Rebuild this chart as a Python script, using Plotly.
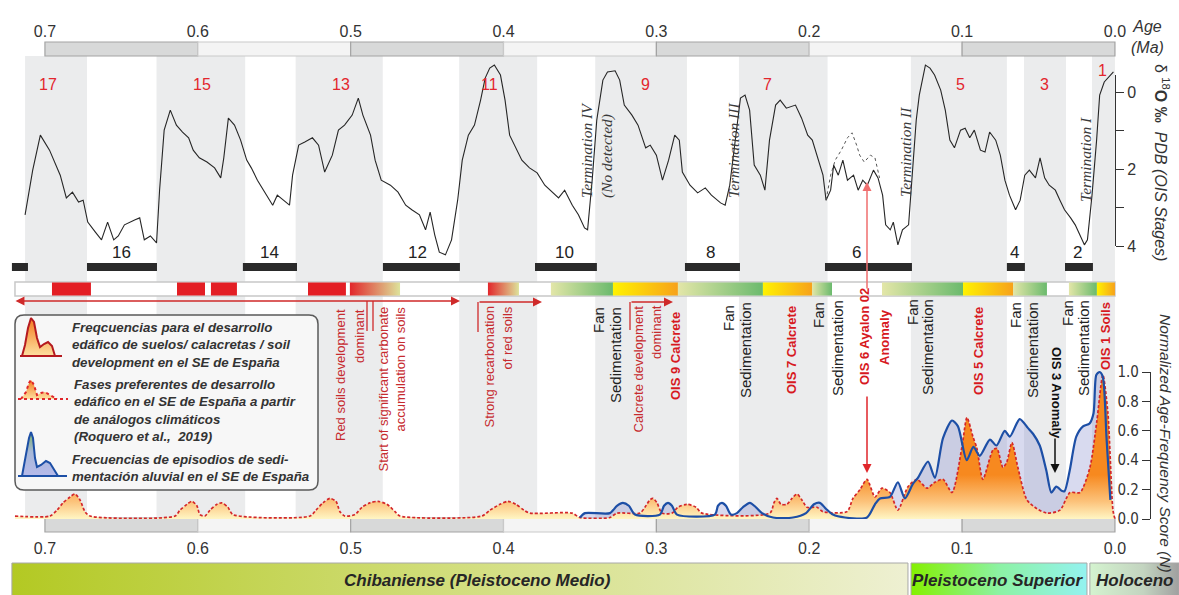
import plotly.graph_objects as go

W, H = 1179, 595

# ---------------- chronology ----------------
age_ticks_ma = [0.7, 0.6, 0.5, 0.4, 0.3, 0.2, 0.1, 0.0]
age_tick_text = ["0.7", "0.6", "0.5", "0.4", "0.3", "0.2", "0.1", "0.0"]

# ---------------- benthic δ18O stack (ka, ‰ PDB) ----------------
d18o_age_ka = [713, 708, 703, 697, 690, 686, 682, 678, 675, 672, 667, 663, 659, 655, 652, 648, 641, 638,
               635, 631, 627, 625, 622, 618, 614, 610, 606, 603, 599, 594, 589, 585, 583, 580, 576, 572,
               568, 565, 561, 556, 551, 548, 544, 540, 538, 534, 530, 525, 521, 517, 512, 508, 504, 499,
               495, 492, 487, 484, 480, 474, 469, 464, 460, 455, 451, 448, 445, 442, 438, 434, 430, 427,
               423, 419, 415, 412, 409, 406, 402, 399, 396, 393, 388, 383, 378, 373, 368, 364, 360, 355,
               351, 347, 345, 342, 339, 335, 332, 327, 324, 321, 316, 312, 307, 304, 300, 296, 292, 288,
               285, 283, 278, 273, 268, 264, 258, 255, 252, 249, 245, 242, 239, 236, 232, 229, 226, 222,
               219, 215, 209, 205, 201, 198, 194, 191, 189, 186, 184, 181, 178, 175, 171, 168, 165, 162,
               158, 155, 152, 150, 147, 145, 142, 139, 135, 133, 130, 128, 124, 121, 118, 114, 111, 108,
               105, 101, 98, 95, 92, 88, 85, 82, 78, 75, 72, 69, 65, 62, 59, 56, 52, 49, 46, 43, 39, 36,
               33, 29, 26, 23, 20, 18, 15, 12, 10, 7, 3, 1]
d18o_permil = [3.19, 2.03, 1.12, 1.51, 2.16, 2.75, 2.60, 2.86, 2.81, 3.38, 3.64, 3.84, 3.38, 3.84, 3.74, 3.45,
               3.32, 3.27, 3.84, 3.74, 3.92, 2.55, 0.99, 0.47, 0.86, 1.04, 1.19, 1.51, 1.71, 1.82, 1.97, 2.23,
               1.71, 0.68, 0.86, 1.25, 1.77, 1.97, 2.29, 2.62, 2.94, 2.68, 2.81, 2.94, 2.16, 1.38, 1.30, 1.19,
               1.38, 2.08, 1.64, 0.99, 0.86, 0.60, 0.16, 0.60, 1.12, 1.77, 2.29, 2.42, 2.60, 2.94, 3.06, 3.19,
               3.58, 3.12, 3.71, 4.16, 4.23, 3.84, 2.81, 1.77, 1.12, 0.86, 0.21, -0.36, -0.62, -0.70, -0.44,
               0.21, 1.12, 1.38, 1.77, 1.97, 2.10, 2.42, 2.60, 2.75, 2.55, 2.94, 3.19, 3.53, 3.58, 2.29, 0.73,
               -0.31, -0.52, -0.55, -0.31, 0.34, 0.60, 0.86, 1.45, 1.38, 1.64, 2.29, 1.77, 1.12, 1.25, 2.08,
               2.42, 2.62, 2.49, 2.68, 2.88, 2.94, 2.42, 1.51, 0.16, 0.08, 0.47, 1.90, 2.16, 2.55, 1.25, 0.34,
               0.21, 0.42, 0.34, 0.68, 1.12, 1.25, 1.77, 2.16, 2.81, 2.55, 1.90, 2.16, 1.77, 2.29, 2.16, 2.55,
               2.29, 2.42, 2.03, 2.23, 2.68, 3.45, 3.58, 3.38, 3.97, 3.58, 3.45, 2.29, 0.73, 0.08, -0.70, -0.62,
               -0.44, -0.05, 0.47, 1.25, 1.45, 0.99, 0.94, 1.19, 0.99, 1.51, 1.56, 1.04, 1.25, 1.64, 2.29, 2.68,
               3.06, 2.81, 2.16, 2.03, 2.23, 1.71, 2.23, 2.42, 2.55, 2.81, 3.06, 3.27, 3.45, 3.71, 3.97, 3.84,
               2.68, 1.25, 0.08, -0.26, -0.44, -0.52]

# dotted alternative record across MIS 6 (Ayalon 02 anomaly)
ayalon_age_ka = [189, 186, 183, 179, 175, 172, 169, 167, 164, 160, 157, 154]
ayalon_permil = [2.81, 2.16, 1.77, 1.51, 1.19, 1.06, 1.38, 1.64, 1.82, 1.64, 1.71, 2.23]

# ---------------- normalized age-frequency scores (N) ----------------
soil_age_ka = [719.6, 696.7, 692.1, 688.2, 683.6, 680.4, 677.1, 673.8, 670.5, 614.9, 611.7, 607.1, 603.8,
               600.6, 598.6, 595.3, 592.0, 587.5, 584.2, 580.3, 577.0, 526.6, 522.7, 518.1, 513.5, 509.6,
               507.0, 503.7, 497.2, 492.6, 487.4, 482.1, 476.2, 471.0, 467.7, 414.1, 408.9, 402.3, 397.1,
               391.9, 386.6, 382.7, 355.2, 350.0, 330.4, 325.8, 310.7, 307.5, 304.2, 302.2, 299.6, 296.3,
               289.8, 285.9, 280.0, 274.1, 270.2, 225.7, 223.1, 221.1, 218.5, 214.6, 211.3, 208.0, 204.8,
               201.5, 195.0, 191.0, 175.3, 171.4, 166.8, 162.2, 157.0, 152.4, 147.2, 142.0, 135.4, 129.5,
               123.0, 117.8, 112.5, 106.6, 100.1, 96.8, 92.9, 90.3, 86.4, 79.8, 77.2, 73.3, 70.7, 67.4,
               63.5, 57.6, 51.0, 44.5, 36.0, 29.4, 22.9, 16.4, 11.8, 7.9, 4.6, 1.3, 0.0]
soil_score = [0.02, 0.02, 0.06, 0.11, 0.15, 0.17, 0.13, 0.05, 0.02, 0.02, 0.06, 0.10, 0.12, 0.09, 0.03,
              0.02, 0.06, 0.10, 0.11, 0.08, 0.03, 0.02, 0.06, 0.11, 0.14, 0.12, 0.05, 0.02, 0.03, 0.08,
              0.11, 0.12, 0.10, 0.05, 0.02, 0.02, 0.06, 0.10, 0.12, 0.10, 0.06, 0.04, 0.04, 0.01, 0.01,
              0.04, 0.04, 0.08, 0.13, 0.14, 0.11, 0.04, 0.04, 0.08, 0.10, 0.08, 0.04, 0.04, 0.11, 0.14,
              0.10, 0.10, 0.14, 0.17, 0.13, 0.08, 0.08, 0.05, 0.05, 0.14, 0.20, 0.27, 0.15, 0.21, 0.18,
              0.06, 0.22, 0.27, 0.21, 0.25, 0.27, 0.18, 0.49, 0.69, 0.56, 0.48, 0.27, 0.47, 0.48, 0.35,
              0.39, 0.52, 0.35, 0.13, 0.07, 0.04, 0.06, 0.18, 0.18, 0.35, 0.67, 0.98, 0.72, 0.06, 0.0]

sed_age_ka = [350.0, 346.7, 330.4, 325.8, 321.9, 318.0, 314.0, 297.7, 295.0, 292.4, 289.8, 286.5, 261.7,
              259.7, 257.1, 254.5, 251.2, 247.3, 243.4, 238.8, 234.9, 230.9, 223.7, 210.6, 202.1, 196.9,
              193.0, 189.1, 184.5, 176.6, 162.2, 157.0, 153.7, 147.2, 142.0, 137.4, 132.1, 128.9, 122.3,
              117.8, 112.5, 106.6, 102.7, 97.0, 92.6, 88.4, 81.8, 77.5, 72.1, 68.8, 62.3, 57.0, 53.6,
              49.2, 44.9, 41.6, 38.4, 34.5, 32.9, 29.6, 25.3, 20.9, 16.6, 14.0, 12.2, 10.0, 8.0, 5.5, 3.0]
sed_score = [0.01, 0.04, 0.04, 0.09, 0.11, 0.09, 0.03, 0.03, 0.09, 0.11, 0.09, 0.03, 0.03, 0.09, 0.11,
             0.09, 0.03, 0.04, 0.08, 0.11, 0.08, 0.04, 0.01, 0.01, 0.04, 0.10, 0.11, 0.07, 0.03, 0.01,
             0.01, 0.10, 0.14, 0.15, 0.25, 0.14, 0.24, 0.28, 0.39, 0.28, 0.55, 0.67, 0.63, 0.40, 0.49,
             0.43, 0.54, 0.50, 0.60, 0.56, 0.68, 0.62, 0.58, 0.50, 0.33, 0.18, 0.22, 0.19, 0.19, 0.33,
             0.56, 0.63, 0.65, 0.72, 0.98, 1.00, 0.97, 0.55, 0.13]

# ---------------- marine isotope stages ----------------
interglacial_old_ka = [713, 627, 536, 429, 340, 246, 133.5, 59.5, 15]
interglacial_young_ka = [672.5, 569, 479, 378, 280, 188, 70.7, 32, 0]
interglacial_label = ["17", "15", "13", "11", "9", "7", "5", "3", "1"]
interglacial_label_ka = [698, 597, 506, 409, 307, 227, 101, 46, 8]

glacial_old_ka = [721.6, 672.5, 570.5, 478.9, 379.4, 281.3, 189.7, 70.7, 32.7]
glacial_young_ka = [711.1, 626.7, 535.1, 428.5, 338.9, 245.3, 132.8, 58.9, 14.4]
glacial_label = ["", "16", "14", "12", "10", "8", "6", "4", "2"]
glacial_label_ka = [716, 649.6, 552.8, 456.0, 359.8, 264.3, 168.8, 65.4, 24.2]

terminations = ["Termination IV<br>(No detected)", "Termination III", "Termination II", "Termination I"]

# ---------------- soil / fan sedimentation phases ----------------
phase_bar_ka = [719.6, 0.0]
seg_old_ka = [695.4, 613.6, 591.4, 527.9, 500.5, 410.2, 369.0, 328.4, 285.9, 230.3, 198.2,
              152.4, 99.4, 66.7, 30.1, 11.8]
seg_young_ka = [669.9, 595.3, 574.4, 503.1, 467.7, 389.9, 328.4, 285.9, 230.3, 198.2, 185.1,
                99.4, 66.7, 44.5, 11.8, 0.0]
seg_kind = ["soil", "soil", "soil", "soil", "recarb", "recarb", "fan", "calcrete", "fan", "calcrete",
            "fan", "fan", "calcrete", "fan", "fan", "calcrete"]

# ---------------- chronostratigraphy ----------------
chrono_name = ["Chibaniense (Pleistoceno Medio)", "Pleistoceno Superior", "Holoceno"]
chrono_old_ma = [0.7216, 0.1334, 0.0164]
chrono_young_ma = [0.1354, 0.0183, -0.0419]
chrono_label_ma = [0.4170, 0.0768, -0.0127]

# ================= styling / layout =================
SANS = "Liberation Sans, Arial, sans-serif"
COND = "DejaVu Sans Condensed, Liberation Sans, sans-serif"
SERIF = "Liberation Serif, Times New Roman, serif"
RED = "#e3262d"
DARKRED = "#c62a2e"

X_OLD, X_YOUNG = 0.7294, -0.0419          # visible age range (Ma)


def ma(ka):
    return [k / 1000.0 for k in ka]


def mx(p):
    """age (Ma) at horizontal pixel p"""
    return X_OLD + (X_YOUNG - X_OLD) * p / W


def px(p):
    return p / W


def py(p):
    return 1 - p / H


# δ18O scale: 0 ‰ at 92 px, 38.5 px per ‰ ; N scale: 0 at 519 px, 147 px per unit
def d18o_at(p):
    return (p - 92) / 38.5


def n_at(p):
    return (519 - p) / 147


def note(text, x, y, xref="paper", **kw):
    d = dict(xref=xref, yref="paper", x=x, y=y, text=text, showarrow=False,
             xanchor="center", yanchor="middle")
    d.update(kw)
    return d


fig = go.Figure()
shapes = []
annotations = []

# interglacial bands
for o, y_ in zip(interglacial_old_ka, interglacial_young_ka):
    shapes.append(dict(type="rect", xref="x", yref="y", x0=o / 1000, x1=y_ / 1000, y0=56, y1=517,
                       fillcolor="#ebeced", line_width=0, layer="below"))

# age strips top and bottom
for i in range(len(age_ticks_ma) - 1):
    dark = i % 2 == 0
    for (t, b) in [(42, 56), (518, 532)]:
        shapes.append(dict(type="rect", xref="x", yref="y", x0=age_ticks_ma[i], x1=age_ticks_ma[i + 1],
                           y0=t, y1=b, fillcolor="#d8d9d9" if dark else "#f4f4f4",
                           line=dict(color="#a3a3a3" if dark else "#c9c9c9", width=1.2), layer="below"))

# legend frame (rounded)
L, R, T, B, r = 15, 318, 315, 490, 9
pts = (f"M {mx(L + r)} {T} L {mx(R - r)} {T} Q {mx(R)} {T} {mx(R)} {T + r} L {mx(R)} {B - r} "
       f"Q {mx(R)} {B} {mx(R - r)} {B} L {mx(L + r)} {B} Q {mx(L)} {B} {mx(L)} {B - r} "
       f"L {mx(L)} {T + r} Q {mx(L)} {T} {mx(L + r)} {T} Z")
shapes.append(dict(type="path", xref="x", yref="y", path=pts, fillcolor="#f7f7f7",
                   line=dict(color="#5a5a5a", width=1.5), layer="below"))

# glacial bars
for o, y_ in zip(glacial_old_ka, glacial_young_ka):
    shapes.append(dict(type="rect", xref="x", yref="y", x0=o / 1000, x1=y_ / 1000, y0=263, y1=271,
                       fillcolor="#2a2a2a", line_width=0, layer="below"))

# phase bar frame + red soil blocks
shapes.append(dict(type="rect", xref="x", yref="y", x0=phase_bar_ka[0] / 1000, x1=phase_bar_ka[1] / 1000,
                   y0=282, y1=296, fillcolor="white", line=dict(color="#c8c8c8", width=1.5), layer="below"))
for o, y_, k in zip(seg_old_ka, seg_young_ka, seg_kind):
    if k == "soil":
        shapes.append(dict(type="rect", xref="x", yref="y", x0=o / 1000, x1=y_ / 1000, y0=282.5, y1=295.5,
                           fillcolor="#e31e24", line_width=0, layer="below"))

SEG_GRAD = {"recarb": ("#e2262b", "#dde39b"), "fan": ("#e3e6a8", "#6bba6d"),
            "calcrete": ("#fff200", "#f7a21b")}
for o, y_, k in zip(seg_old_ka, seg_young_ka, seg_kind):
    if k == "soil":
        continue
    left, right = SEG_GRAD[k]
    xo, xy_ = o / 1000, y_ / 1000
    fig.add_trace(go.Scatter(x=[xo, xy_, xy_, xo, xo], y=[282.5, 282.5, 295.5, 295.5, 282.5],
                             mode="lines", line=dict(width=0), fill="toself",
                             fillgradient=dict(type="horizontal", colorscale=[[0, left], [1, right]],
                                               start=xo, stop=xy_),
                             hoverinfo="skip", xaxis="x", yaxis="y"))

# chronostratigraphic bars
CHRONO_GRAD = [[[0, "#b3c923"], [0.5, "#d2de7e"], [1, "#eef0d2"]],
               [[0, "#84f000"], [0.5, "#8cf2a4"], [1, "#94f2f0"]],
               [[0, "#d4f3cf"], [0.6, "#c3d4c0"], [1, "#a0a0a0"]]]
for name, o, y_, lx, cs in zip(chrono_name, chrono_old_ma, chrono_young_ma, chrono_label_ma, CHRONO_GRAD):
    fig.add_trace(go.Scatter(x=[o, y_, y_, o, o], y=[563, 563, 597, 597, 563], mode="lines",
                             line=dict(width=1, color="#a8a8a8"), fill="toself",
                             fillgradient=dict(type="horizontal", colorscale=cs, start=o, stop=y_),
                             hoverinfo="skip", xaxis="x", yaxis="y"))
    annotations.append(note(f"<b><i>{name}</i></b>", lx, py(580), xref="x",
                            font=dict(family=SANS, size=17, color="#262626")))

# legend glyphs
def glyph(xs, ys, fill_scale, line, base_y, base_x0, base_x1):
    fig.add_trace(go.Scatter(x=[mx(v) for v in xs], y=ys, mode="lines", line=dict(width=0),
                             fill="toself", fillgradient=dict(type="vertical", colorscale=fill_scale),
                             hoverinfo="skip", xaxis="x", yaxis="y"))
    fig.add_trace(go.Scatter(x=[mx(v) for v in xs], y=ys, mode="lines", line=line,
                             hoverinfo="skip", xaxis="x", yaxis="y"))
    fig.add_trace(go.Scatter(x=[mx(base_x0), mx(base_x1)], y=[base_y, base_y], mode="lines", line=line,
                             hoverinfo="skip", xaxis="x", yaxis="y"))


ORANGE_ICON = [[0, "#fde0a0"], [1, "#f47a1f"]]
glyph([22, 25, 28, 31, 34, 37, 40, 44, 48, 52, 55], [356, 345, 328, 318, 322, 338, 347, 344, 342, 346, 356],
      ORANGE_ICON, dict(color="#b51a1f", width=2), 356, 20, 62)
glyph([21, 26, 29, 31, 34, 37, 41, 45, 50, 57], [399, 392, 383, 380, 385, 395, 393, 392, 395, 399],
      ORANGE_ICON, dict(color="#e0262b", width=2, dash="dot"), 399, 18, 68)
glyph([22, 26, 29, 31, 33, 35, 37, 41, 46, 50, 54, 58], [476, 455, 438, 432, 438, 458, 467, 465, 461, 463, 470, 476],
      [[0, "#b7baea"], [0.55, "#a7b8d8"], [1, "#7db26a"]], dict(color="#1d4fa6", width=2), 476, 18, 67)

# lower panel: sedimentation (under) and soil frequency
fig.add_trace(go.Scatter(x=ma(sed_age_ka), y=sed_score, mode="lines",
                         line=dict(width=0, shape="spline", smoothing=0.7), fill="tozeroy",
                         fillcolor="rgba(138,142,206,0.33)", hoverinfo="skip", xaxis="x", yaxis="y4"))
fig.add_trace(go.Scatter(x=ma(soil_age_ka), y=soil_score, mode="lines",
                         line=dict(width=0, shape="spline", smoothing=0.7), fill="tozeroy",
                         fillgradient=dict(type="vertical", start=0, stop=0.3,
                                           colorscale=[[0, "#fff6c4"], [0.4, "#fcc27a"], [1, "#f7891f"]]),
                         hoverinfo="skip", xaxis="x", yaxis="y4"))
fig.add_trace(go.Scatter(x=ma(soil_age_ka), y=soil_score, mode="lines",
                         line=dict(color="#d4262a", width=1.7, dash="3px,2px", shape="spline", smoothing=0.7),
                         hoverinfo="skip", xaxis="x", yaxis="y4"))
fig.add_trace(go.Scatter(x=ma(sed_age_ka), y=sed_score, mode="lines",
                         line=dict(color="#1d4fa6", width=2.2, shape="spline", smoothing=0.7),
                         hoverinfo="skip", xaxis="x", yaxis="y4"))

# δ18O record
fig.add_trace(go.Scatter(x=ma(d18o_age_ka), y=d18o_permil, mode="lines",
                         line=dict(color="#262626", width=1.1), hoverinfo="skip", xaxis="x2", yaxis="y2"))
fig.add_trace(go.Scatter(x=ma(ayalon_age_ka), y=ayalon_permil, mode="lines",
                         line=dict(color="#555555", width=1, dash="dot"), hoverinfo="skip", xaxis="x2", yaxis="y2"))

# axis carriers
fig.add_trace(go.Scatter(x=[], y=[], xaxis="x2", yaxis="y3", hoverinfo="skip"))
fig.add_trace(go.Scatter(x=[], y=[], xaxis="x", yaxis="y5", hoverinfo="skip"))

# stage numbers
for lab, ka in zip(interglacial_label, interglacial_label_ka):
    annotations.append(note(lab, ka / 1000, py(70 if lab == "1" else 85), xref="x",
                            font=dict(family=SANS, size=16, color=RED)))
for lab, ka in zip(glacial_label, glacial_label_ka):
    if lab:
        annotations.append(note(lab, ka / 1000, py(252), xref="x", font=dict(family=SANS, size=17, color="#222")))

# terminations
term_pos = [(596.5, 200, "bottom", "left"), (733, 150, "middle", "center"),
            (905, 152, "middle", "center"), (1086, 160, "middle", "center")]
for txt, (x_, y_, ya, al) in zip(terminations, term_pos):
    annotations.append(note(f"<i>{txt}</i>", px(x_), py(y_), yanchor=ya, align=al, textangle=-90,
                            font=dict(family=SERIF, size=15.5, color="#3a3a3a")))

# vertical labels of the phases
red_lines = [("Red soils development", 340, 307), ("dominant", 359, 307),
             ("Start of significant carbonate", 383, 305), ("accumulation on soils", 400, 305),
             ("Strong recarbonation", 489, 305), ("of red soils", 507, 305),
             ("Calcrete development", 638, 303), ("dominant", 656, 303)]
for t, x_, y_ in red_lines:
    annotations.append(note(t, px(x_), py(y_), yanchor="top", textangle=-90,
                            font=dict(family=SANS, size=13, color=DARKRED)))
bold_red = [("OIS 9 Calcrete", 675, 310), ("OIS 7 Calcrete", 791, 304), ("OIS 5 Calcrete", 978, 305),
            ("OIS 1 Soils", 1105, 300)]
for t, x_, y_ in bold_red:
    annotations.append(note(f"<b>{t}</b>", px(x_), py(y_), yanchor="top", textangle=-90,
                            font=dict(family=SANS, size=13, color="#d7191f")))
for t, x_ in [("OIS 6 Ayalon 02", 864), ("Anomaly", 884)]:
    annotations.append(note(f"<b>{t}</b>", px(x_), py(337), textangle=-90,
                            font=dict(family=SANS, size=13, color="#d7191f")))
fan_lines = [("Fan", 598, 305), ("Sedimentation", 615, 305), ("Fan", 728, 303), ("Sedimentation", 745, 300),
             ("Fan", 818, 300), ("Sedimentation", 837, 298), ("Fan", 912, 297), ("Sedimentation", 927, 297),
             ("Fan", 1015, 300), ("Sedimentation", 1032, 300), ("Fan", 1067, 298), ("Sedimentation", 1083, 298)]
for t, x_, y_ in fan_lines:
    annotations.append(note(t, px(x_), py(y_), yanchor="top", textangle=-90,
                            font=dict(family=SANS, size=15, color="#222")))
annotations.append(note("<b>OIS 3 Anomaly</b>", px(1057), py(345), yanchor="top", textangle=90,
                        font=dict(family=SANS, size=13, color="#111")))

# arrows
def arrow(x_tip, y_tip, ax, ay, color, both=False):
    d = dict(xref="paper", yref="paper", x=px(x_tip), y=py(y_tip), ax=ax, ay=ay, text="", showarrow=True,
             arrowhead=2, arrowsize=1.2, arrowwidth=1.5, arrowcolor=color, standoff=0, startstandoff=0)
    if both:
        d.update(arrowside="end+start", startarrowhead=2, startarrowsize=1.2)
    annotations.append(d)


arrow(460, 301, -446, 0, "#cf2a2a", both=True)
arrow(542, 302, -64, 0, "#cf2a2a")
arrow(673, 302, -43, 0, "#cf2a2a")
arrow(867, 182, 0, 108, "#ef6f6f")
arrow(867, 473, 0, -78, "#e0262b")
arrow(1055, 473, 0, -36, "#111111")
for x_, y0, y1 in [(367, 301, 331), (373, 301, 331), (478, 302, 332), (630, 302, 330)]:
    shapes.append(dict(type="line", xref="paper", yref="paper", x0=px(x_), x1=px(x_), y0=py(y0), y1=py(y1),
                       line=dict(color="#cf2a2a", width=1.3), layer="above"))

# legend text
LEG_FONT = dict(family=SANS, size=13.3, color="#333")
annotations += [
    note("<b><i>Freqcuencias para el desarrollo<br>edáfico de suelos/ calacretas / soil<br>"
         "development en el SE de España</i></b>", px(70), py(345), xanchor="left", align="left", font=LEG_FONT),
    note("<b><i>Fases preferentes de desarrollo<br>edáfico en el SE de España a partir<br>"
         "de análogos climáticos<br>(Roquero et al.,&#160; 2019)</i></b>", px(72), py(410), xanchor="left",
         align="left", font=LEG_FONT),
    note("<b><i>Frecuencias de episodios de sedi-<br>mentación aluvial en el SE de España</i></b>",
         px(70), py(468), xanchor="left", align="left", font=LEG_FONT),
]

# axis titles
annotations += [
    note("<i>Age<br>(Ma)</i>", px(1147), py(37), font=dict(family=SANS, size=16, color="#333")),
    note("δ <sup>18</sup><b>O ‰</b>  <i>PDB (OIS Stages)</i>", px(1162), py(162), textangle=90,
         font=dict(family=SANS, size=16, color="#333")),
    note("<i>Normalized Age-Frequency Score (N)</i>", px(1166), py(443), textangle=90,
         font=dict(family=SANS, size=15.5, color="#333")),
]

AX_HIDDEN = dict(visible=False, showgrid=False, zeroline=False)
TICKFONT = dict(family=SANS, size=16, color="#333")
fig.update_layout(
    width=W, height=H, autosize=False, margin=dict(l=0, r=0, t=0, b=0, pad=0),
    paper_bgcolor="white", plot_bgcolor="rgba(0,0,0,0)", showlegend=False, template="none",
    xaxis=dict(domain=[0, 1], range=[X_OLD, X_YOUNG], anchor="free", position=py(537), side="bottom",
               tickvals=age_ticks_ma, ticktext=age_tick_text, ticks="", showline=False, showgrid=False,
               zeroline=False, tickfont=TICKFONT),
    xaxis2=dict(domain=[0, 1], range=[X_OLD, X_YOUNG], anchor="free", position=py(40), side="top",
                tickvals=age_ticks_ma, ticktext=age_tick_text, ticks="", showline=False, showgrid=False,
                zeroline=False, tickfont=TICKFONT),
    yaxis=dict(domain=[0, 1], range=[H, 0], anchor="x", **AX_HIDDEN),
    yaxis2=dict(domain=[py(262), py(56)], range=[d18o_at(262), d18o_at(56)], anchor="x2", **AX_HIDDEN),
    yaxis3=dict(domain=[py(246), py(75)], range=[d18o_at(246), d18o_at(75)], anchor="free", position=px(1115),
                side="right", showline=True, linecolor="#333", linewidth=1.2, ticks="outside", ticklen=8,
                tickcolor="#333", tickwidth=1.2, tickvals=[0, 1, 2, 3, 4], ticktext=["0", "", "2", "", "4"],
                showgrid=False, zeroline=False, tickfont=TICKFONT),
    yaxis4=dict(domain=[py(519), py(360)], range=[0, n_at(360)], anchor="x", **AX_HIDDEN),
    yaxis5=dict(domain=[py(519), py(372)], range=[0, 1], anchor="free", position=px(1150), side="left",
                showline=True, linecolor="#333", linewidth=1.2, ticks="outside", ticklen=8, tickcolor="#333",
                tickwidth=1.2, tickvals=[0, 0.2, 0.4, 0.6, 0.8, 1.0], tickformat=".1f", showgrid=False,
                zeroline=False, tickfont=dict(family=COND, size=15, color="#333")),
    shapes=shapes, annotations=annotations,
)

fig.write_html("out.html")
